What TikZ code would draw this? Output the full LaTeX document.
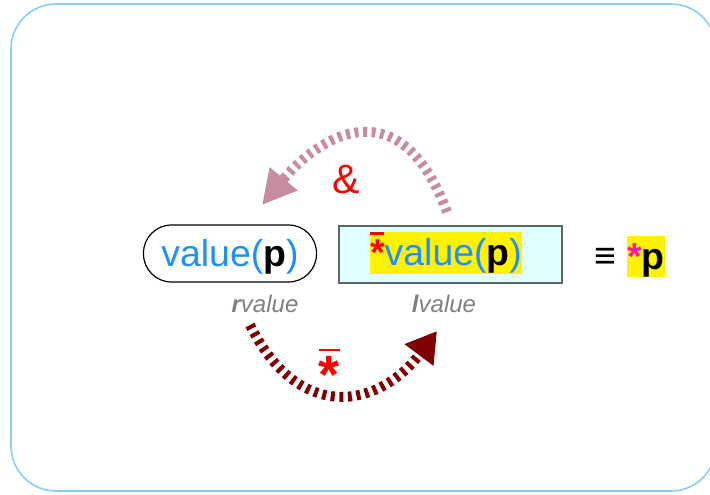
\documentclass[tikz,border=0pt]{standalone}
\usepackage{fontspec}
\setmainfont{Liberation Sans}
\usetikzlibrary{arrows.meta}
\definecolor{vblue}{RGB}{30,144,255}
\definecolor{framec}{RGB}{135,206,250}
\definecolor{pinkarr}{RGB}{200,140,160}
\definecolor{darkarr}{RGB}{128,0,0}
\definecolor{lcyan}{RGB}{224,255,255}
\definecolor{magstar}{RGB}{255,20,170}
\definecolor{lblgray}{RGB}{128,128,128}
\begin{document}
\begin{tikzpicture}[x=0.5pt,y=-0.5pt,
  big/.style={font=\fontsize{18.7}{22}\selectfont, inner sep=0pt},
  hl/.style={big, fill=yellow, text height=16.7pt, text depth=3.9pt},
  lbl/.style={font=\fontsize{12}{14}\selectfont\itshape, text=lblgray, inner sep=0pt, anchor=base},
  dasharr/.style={line width=5pt, dash pattern=on 2pt off 2.3pt},
]
\useasboundingbox (0,0) rectangle (710,494);
\draw[framec, line width=0.8pt, rounded corners=22.5pt] (11,4) rectangle (716,491);

% rvalue node
\node[draw=black, line width=0.6pt, rounded corners=14pt, minimum width=86.5pt, minimum height=28.5pt, big, text height=16.7pt, text depth=3.9pt]
  (rv) at (230,253.5) {\textcolor{vblue}{value(}\textbf{p}\textcolor{vblue}{)}};

% lvalue box
\node[draw={rgb,255:red,100;green,100;blue,100}, line width=0.8pt, fill=lcyan, minimum width=111.5pt, minimum height=28.5pt]
  (lb) at (450.5,254.5) {};
\node[hl] (lt) at (446,253) {\textcolor{red}{\bfseries*}\textcolor{vblue}{value(}\textbf{p}\textcolor{vblue}{)}};
\draw[red, line width=1.3pt] ([yshift=-0.8pt]lt.north west) -- ([xshift=7pt,yshift=-0.8pt]lt.north west);

% equivalence
\node[big, anchor=base] (eq) at (605,268) {\bfseries ≡};
\node[hl] (sp) at (646,256.5) {\textcolor{magstar}{\bfseries*}\textbf{p}};

% labels
\node[lbl] (rl) at (265,312) {\textbf{r}value};
\node[lbl] (ll) at (444,312) {\textbf{l}value};

% arrows
\coordinate (a1) at (447,212);
\coordinate (a2) at (262,205);
\draw[pinkarr, dasharr, -{Triangle[length=17pt,width=17pt]}]
  (a1) .. controls (400,86) and (320,135) .. (a2);
\node[font=\fontsize{20.5}{24}\selectfont, text=red, inner sep=0pt, anchor=base] (amp) at (346,193) {\&};

\coordinate (b1) at (250,325);
\coordinate (b2) at (437,331);
\draw[darkarr, dasharr, -{Triangle[length=15pt,width=17pt]}]
  (b1) .. controls (300,425) and (380,407) .. (b2);
\node[font=\fontsize{27}{30}\selectfont\bfseries, text=red, inner sep=0pt, anchor=base] (bs) at (329,393) {*};
\draw[red, line width=1.3pt] (319,350) -- (340,350);
\end{tikzpicture}
\end{document}
